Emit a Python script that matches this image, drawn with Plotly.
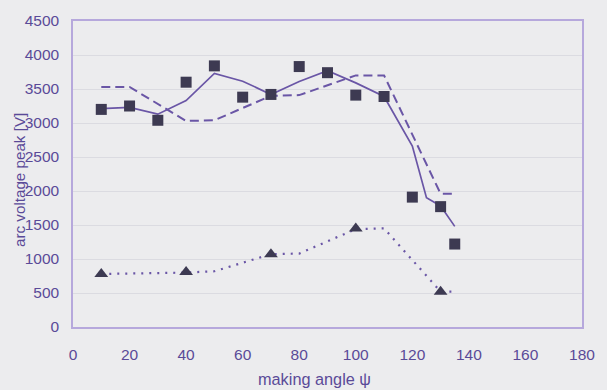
import plotly.graph_objects as go

# measured peaks (squares)
meas_angle = [10, 20, 30, 40, 50, 60, 70, 80, 90, 100, 110, 120, 130, 135]
meas_peak = [3200, 3250, 3040, 3600, 3840, 3380, 3420, 3830, 3740, 3410, 3390, 1910, 1770, 1220]

# solid model curve
solid_angle = [10, 20, 30, 40, 50, 60, 70, 80, 90, 100, 110, 120, 125, 130, 135]
solid_peak = [3210, 3230, 3130, 3330, 3730, 3615, 3420, 3610, 3770, 3590, 3390, 2660, 1900, 1780, 1480]

# dashed model curve
dash_angle = [10, 20, 40, 50, 70, 80, 100, 110, 130, 134]
dash_peak = [3530, 3530, 3030, 3040, 3400, 3410, 3700, 3700, 1960, 1960]

# triangles and dotted curve
tri_angle = [10, 40, 70, 100, 130]
tri_peak = [780, 810, 1070, 1450, 520]
dot_angle = [10, 40, 50, 70, 80, 100, 110, 130, 134]
dot_peak = [780, 800, 820, 1070, 1080, 1440, 1450, 520, 520]

x_ticks = [0, 20, 40, 60, 80, 100, 120, 140, 160, 180]
y_ticks = [0, 500, 1000, 1500, 2000, 2500, 3000, 3500, 4000, 4500]

line_col = "#6a56a6"
mark_col = "#3d3a52"
text_col = "#5a4a98"
axis_col = "#b6a8dc"
bg = "#ececee"

fig = go.Figure()
fig.add_trace(go.Scatter(x=dash_angle, y=dash_peak, mode="lines",
                         line=dict(color=line_col, width=2, dash="9px,5px")))
fig.add_trace(go.Scatter(x=solid_angle, y=solid_peak, mode="lines",
                         line=dict(color=line_col, width=1.7)))
fig.add_trace(go.Scatter(x=meas_angle, y=meas_peak, mode="markers",
                         marker=dict(symbol="square", size=11, color=mark_col)))
fig.add_trace(go.Scatter(x=dot_angle, y=dot_peak, mode="lines",
                         line=dict(color=line_col, width=2.2, dash="2px,6px")))
fig.add_trace(go.Scatter(x=tri_angle, y=tri_peak, mode="markers",
                         marker=dict(symbol="triangle-up", size=12, color=mark_col)))

family = "Liberation Sans, Arial, sans-serif"
tick_font = dict(family=family, size=15.5, color=text_col)

fig.update_layout(
    width=607, height=390,
    margin=dict(l=73, r=22, t=16, b=63),
    paper_bgcolor=bg, plot_bgcolor=bg,
    showlegend=False,
    font=tick_font,
    xaxis=dict(range=[0, 180], tickvals=x_ticks, showgrid=False, zeroline=False,
               showline=True, linecolor=axis_col, linewidth=1.5, mirror=True,
               ticks="", ticklabelstandoff=13, tickfont=tick_font),
    yaxis=dict(range=[0, 4500], tickvals=y_ticks, showgrid=True,
               gridcolor="rgba(212,212,220,0.7)", gridwidth=1, zeroline=False,
               showline=True, linecolor=axis_col, linewidth=1.5, mirror=True,
               ticks="", ticklabelstandoff=9, tickfont=tick_font),
    annotations=[
        dict(text="arc voltage peak [V]", xref="paper", yref="paper",
             x=-0.105, y=0.479, textangle=-90, showarrow=False,
             xanchor="center", yanchor="middle",
             font=dict(family=family, size=15.2, color=text_col)),
        dict(text="making angle ψ", xref="paper", yref="paper",
             x=0.475, y=-0.171, showarrow=False,
             xanchor="center", yanchor="middle",
             font=dict(family=family, size=16.3, color=text_col)),
    ],
)

fig.write_html("out.html")
